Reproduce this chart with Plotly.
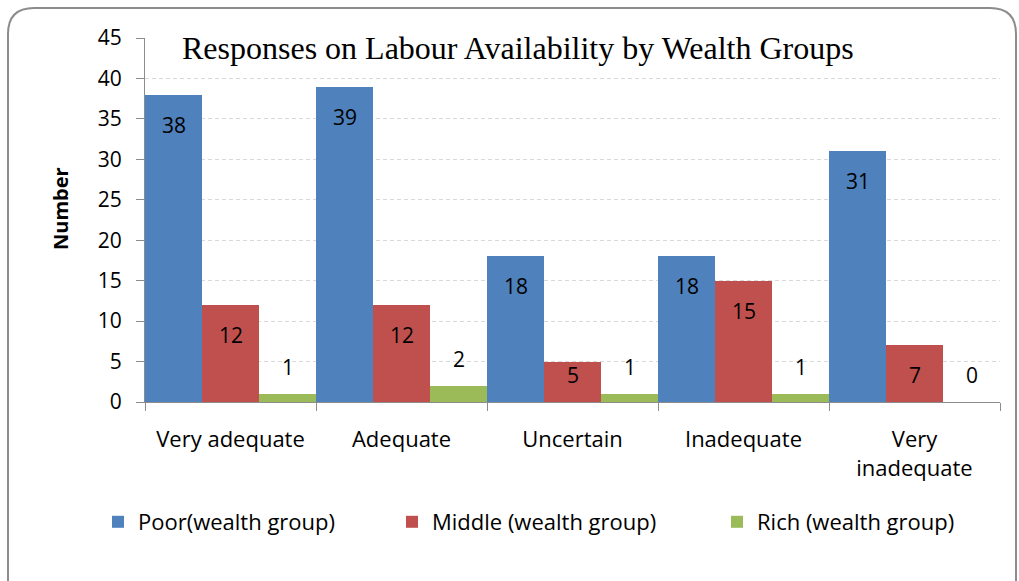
import plotly.graph_objects as go

# Survey counts by perceived labour availability, split by wealth group
categories = ["Very adequate", "Adequate", "Uncertain", "Inadequate", "Very<br>inadequate"]
series_names = ["Poor(wealth group)", "Middle (wealth group)", "Rich (wealth group)"]
poor = [38, 39, 18, 18, 31]
middle = [12, 12, 5, 15, 7]
rich = [1, 2, 1, 1, 0]
series_values = [poor, middle, rich]
colors = ["#4F81BD", "#C0504D", "#9BBB59"]
y_ticks = list(range(0, 46, 5))

W, H = 1019, 581
L, R, T, B = 145, 19, 38, 179
plot_w, plot_h = W - L - R, H - T - B
y_max = 45
px_per_unit = plot_h / y_max

FONT = "Open Sans, Lato, sans-serif"
label_font = dict(family=FONT, size=21, color="#000000")


def to_paper(px, py):
    return (px - L) / plot_w, (H - B - py) / plot_h


fig = go.Figure()
legend_names = ["legend", "legend2", "legend3"]
for name, vals, col, lg in zip(series_names, series_values, colors, legend_names):
    fig.add_trace(go.Bar(
        x=list(range(len(categories))), y=vals, name=name,
        marker=dict(color=col, line=dict(width=0)),
        hoverinfo="x+y+name", legend=lg,
    ))

# Value labels: inside the top of tall bars, above short/green ones
annotations = []
n = len(series_values)
for k, vals in enumerate(series_values):
    for i, v in enumerate(vals):
        xpos = i + (k - (n - 1) / 2) / n
        height_px = v * px_per_unit
        if k < 2 and height_px >= 55:
            y, shift = v, -30
        elif k < 2:
            y, shift = 0, 27
        else:
            y, shift = v, 27
        annotations.append(dict(
            x=xpos, y=y, xref="x", yref="y", text=str(v), showarrow=False,
            yshift=shift, font=label_font, xanchor="center", yanchor="middle",
        ))

# Title sits inside the plot area
tx, ty = to_paper(518, 48)
annotations.append(dict(
    x=tx, y=ty, xref="paper", yref="paper",
    text="Responses on Labour Availability by Wealth Groups", showarrow=False,
    font=dict(family="Liberation Serif, Times New Roman, serif", size=32, color="#000000"),
    xanchor="center", yanchor="middle",
))

# Vertical axis caption
nx, ny = to_paper(60, 209)
annotations.append(dict(
    x=nx, y=ny, xref="paper", yref="paper", text="<b>Number</b>", showarrow=False,
    textangle=-90, font=dict(family=FONT, size=20, color="#000000"),
    xanchor="center", yanchor="middle",
))

# Rounded chart frame (bottom edge runs off the canvas)
x0, y0, x1, y1, r = 8, 8, 1016, 600, 26
pts = {
    "a": to_paper(x0, y1), "b": to_paper(x0, y0 + r), "c": to_paper(x0, y0),
    "d": to_paper(x0 + r, y0), "e": to_paper(x1 - r, y0), "f": to_paper(x1, y0),
    "g": to_paper(x1, y0 + r), "h": to_paper(x1, y1),
}
path = (
    f"M {pts['a'][0]},{pts['a'][1]} L {pts['b'][0]},{pts['b'][1]} "
    f"Q {pts['c'][0]},{pts['c'][1]} {pts['d'][0]},{pts['d'][1]} "
    f"L {pts['e'][0]},{pts['e'][1]} "
    f"Q {pts['f'][0]},{pts['f'][1]} {pts['g'][0]},{pts['g'][1]} "
    f"L {pts['h'][0]},{pts['h'][1]}"
)
shapes = [dict(type="path", path=path, xref="paper", yref="paper",
               line=dict(color="#8C8C8C", width=2), layer="below")]

# One legend per series so each entry can be placed along the bottom row
legend_left_px = [98, 392, 717]
legend_style = dict(
    orientation="h", xanchor="left", yanchor="middle",
    font=dict(family=FONT, size=22, color="#000000"),
    bgcolor="rgba(0,0,0,0)", itemwidth=30,
)
legend_layouts = {}
for lg, lx in zip(legend_names, legend_left_px):
    px_, py_ = to_paper(lx, 522)
    legend_layouts[lg] = dict(legend_style, x=px_, y=py_)

fig.update_layout(
    width=W, height=H,
    margin=dict(l=L, r=R, t=T, b=B, autoexpand=False),
    paper_bgcolor="white", plot_bgcolor="white",
    barmode="group", bargap=0, bargroupgap=0,
    showlegend=True,
    xaxis=dict(
        range=[-0.5, len(categories) - 0.5],
        tickmode="array", tickvals=list(range(len(categories))), ticktext=categories,
        ticks="", showgrid=False, zeroline=False,
        showline=True, linecolor="#8C8C8C", linewidth=1,
        tickfont=dict(family=FONT, size=22, color="#000000"), ticklabelstandoff=18,
        minor=dict(tickmode="array", tickvals=[i - 0.5 for i in range(len(categories) + 1)],
                   ticks="outside", ticklen=8, tickcolor="#8C8C8C", tickwidth=1, showgrid=False),
        fixedrange=True,
    ),
    yaxis=dict(
        range=[0, y_max], tickmode="array", tickvals=y_ticks,
        ticks="outside", ticklen=8, tickcolor="#8C8C8C",
        showline=True, linecolor="#8C8C8C", linewidth=1,
        showgrid=True, gridcolor="#D9D9D9", griddash="4px,3px", gridwidth=1,
        zeroline=False, tickfont=dict(family=FONT, size=21, color="#000000"),
        ticklabelstandoff=10,
        fixedrange=True,
    ),
    annotations=annotations,
    shapes=shapes,
    **legend_layouts,
)

fig.write_html("out.html")
